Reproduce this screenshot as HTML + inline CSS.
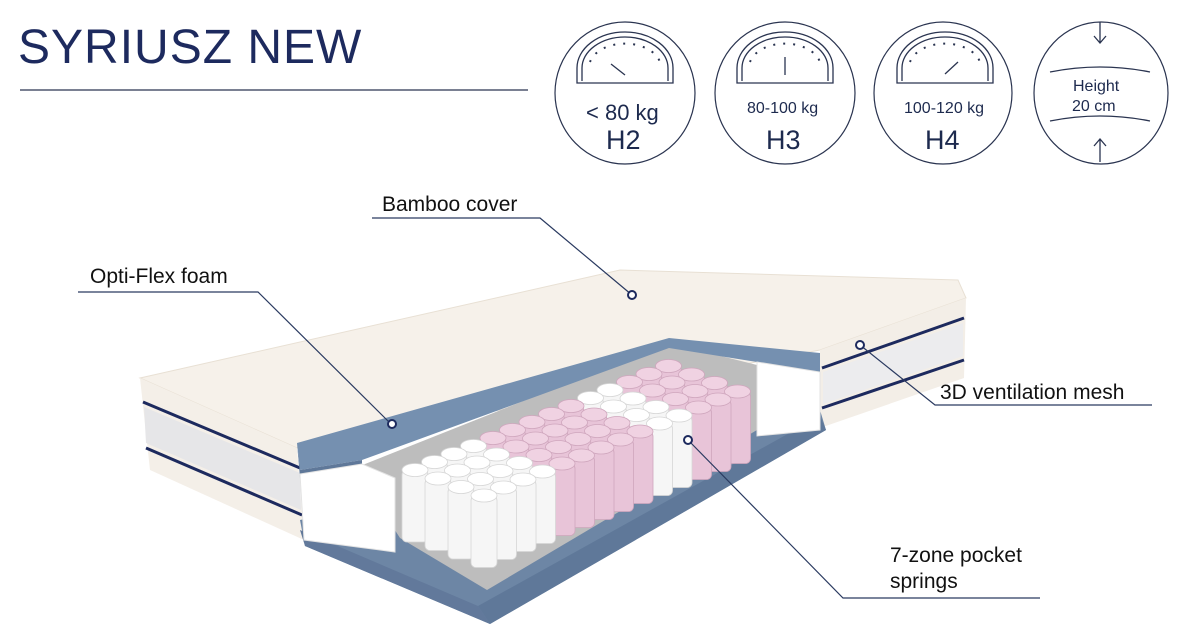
<!DOCTYPE html>
<html><head><meta charset="utf-8"><style>
body{margin:0;width:1200px;height:634px;background:#fff;overflow:hidden;position:relative;font-family:"Liberation Sans",sans-serif;color:#1d2a4e}
.t{position:absolute;white-space:nowrap}
</style></head><body>
<svg id="s" width="1200" height="634" style="position:absolute;left:0;top:0">
<g fill="none" stroke="#2a3450" stroke-width="1.2">
<line x1="20" y1="90" x2="528" y2="90"/>
<ellipse cx="625" cy="93" rx="70" ry="71"/>
<ellipse cx="785" cy="93" rx="70" ry="71"/>
<ellipse cx="943" cy="93" rx="69" ry="71"/>
<ellipse cx="1101" cy="93" rx="67" ry="71"/>
</g>
<g fill="none" stroke="#2a3450" stroke-width="1.3">
<path d="M577,83 v-15 a48,36 0 0 1 96,0 v15 z M582,81 v-13 a43,31 0 0 1 86,0 v13"/>
<path d="M737,83 v-15 a48,36 0 0 1 96,0 v15 z M742,81 v-13 a43,31 0 0 1 86,0 v13"/>
<path d="M897,83 v-15 a48,36 0 0 1 96,0 v15 z M902,81 v-13 a43,31 0 0 1 86,0 v13"/>
<line x1="611" y1="64" x2="625" y2="75"/><line x1="785" y1="57" x2="785" y2="75"/><line x1="958" y1="62" x2="945" y2="74"/>
<path d="M1100,22 v20 M1094,36 l6,7 6,-7 M1100,162 v-23 M1094,146 l6,-7 6,7"/>
<path d="M1050,72 q50,-10 100,0 M1050,121 q50,-10 100,0"/>
</g>
<g stroke="#2a3450" stroke-width="2" stroke-dasharray="2 8" fill="none">
<path d="M590,62 a36,24 0 0 1 70,0"/><path d="M750,62 a36,24 0 0 1 70,0"/><path d="M910,62 a36,24 0 0 1 70,0"/>
</g>
<!-- mattress -->
<polygon points="140,378 620,270 958,280 966,298 820,350 297,448" fill="#f6f1ea" stroke="#e8e0d4"/>
<polygon points="820,350 966,298 964,378 820,428" fill="#f3eee7"/>
<line x1="822" y1="368" x2="964" y2="318" stroke="#1d2a5e" stroke-width="3"/>
<line x1="822" y1="408" x2="964" y2="360" stroke="#1d2a5e" stroke-width="3"/>
<polygon points="823,372 963,323 963,356 823,404" fill="#ececee"/>
<polygon points="140,378 297,448 304,540 150,470" fill="#f4efe8"/>
<line x1="143" y1="402" x2="300" y2="468" stroke="#1d2a5e" stroke-width="3"/>
<line x1="146" y1="448" x2="302" y2="515" stroke="#1d2a5e" stroke-width="3"/>
<polygon points="144,407 300,473 301,510 146,443" fill="#e6e6e8"/>
<!-- base -->
<polygon points="300,520 820,410 826,430 490,624 305,546" fill="#6d86a5"/>
<polygon points="478,606 820,416 826,430 490,624" fill="#5f7899"/>
<polygon points="300,530 478,606 490,624 305,546" fill="#62799b"/>
<!-- gray layer -->
<polygon points="355,468 669,343 757,365 757,430 487,590 400,538" fill="#bdbdbd"/>
<!-- foam -->
<polygon points="297,443 669,338 820,353 820,372 757,362 669,348 362,460 300,470" fill="#7590b0"/>
<polygon points="297,443 300,470 362,460 362,468 300,478" fill="#5f7899"/>
<!-- white blocks -->
<polygon points="300,474 362,464 395,478 395,552 304,540" fill="#ffffff" stroke="#e3e3e3"/>
<polygon points="757,362 820,372 820,430 757,436" fill="#ffffff" stroke="#e3e3e3"/>
<g id="springs"></g>
<!-- leaders -->
<g stroke="#2a3a60" stroke-width="1.2" fill="none">
<polyline points="372,218 540,218 632,295"/>
<polyline points="78,292 258,292 390,423"/>
<polyline points="1152,405 935,405 860,345"/>
<polyline points="1040,598 843,598 688,440"/>
</g>
<g fill="#fff" stroke="#1d2a5e" stroke-width="2">
<circle cx="632" cy="295" r="4"/><circle cx="392" cy="424" r="4"/><circle cx="860" cy="345" r="4"/><circle cx="688" cy="440" r="4"/>
</g>
</svg>
<script>
var g=document.getElementById('springs'),h='',arr=[];
for(var j=0;j<4;j++)for(var i=0;i<14;i++){
 arr.push({x:415+i*19.5+j*23,y:470-i*8+j*8.5,i:i,j:j});
}
arr.sort(function(a,b){return a.y-b.y;});
arr.forEach(function(s){
 var pink=(s.i>=4&&s.i<=8)||(s.i>=11);
 var f=pink?'#e8c4d8':'#f6f6f6', tf=pink?'#f0d2e2':'#ffffff', st=pink?'#cfa6bd':'#d6d6d6';
 var w=13, hh=72;
 h+='<rect x="'+(s.x-w)+'" y="'+s.y+'" width="'+(2*w)+'" height="'+hh+'" rx="5" fill="'+f+'" stroke="'+st+'" stroke-width="0.8"/>';
 h+='<ellipse cx="'+s.x+'" cy="'+s.y+'" rx="'+w+'" ry="6.5" fill="'+tf+'" stroke="'+st+'" stroke-width="0.8"/>';
});
g.innerHTML=h;
</script>
<div class="t" style="left:18px;top:20px;font-size:48px;letter-spacing:1px;color:#1d2a5e">SYRIUSZ NEW</div>
<div class="t" style="left:586px;top:100px;font-size:22px">&lt; 80 kg</div>
<div class="t" style="left:606px;top:125px;font-size:27px">H2</div>
<div class="t" style="left:747px;top:100px;font-size:16px">80-100 kg</div>
<div class="t" style="left:766px;top:125px;font-size:27px">H3</div>
<div class="t" style="left:904px;top:100px;font-size:16px">100-120 kg</div>
<div class="t" style="left:925px;top:125px;font-size:27px">H4</div>
<div class="t" style="left:1073px;top:78px;font-size:16px">Height</div>
<div class="t" style="left:1072px;top:98px;font-size:16px">20 cm</div>
<div class="t" style="left:382px;top:193px;font-size:21px;color:#111">Bamboo cover</div>
<div class="t" style="left:90px;top:265px;font-size:21px;color:#111">Opti-Flex foam</div>
<div class="t" style="left:940px;top:381px;font-size:21px;color:#111">3D ventilation mesh</div>
<div class="t" style="left:890px;top:543px;font-size:21px;color:#111;line-height:26px">7-zone pocket<br>springs</div>
</body></html>
